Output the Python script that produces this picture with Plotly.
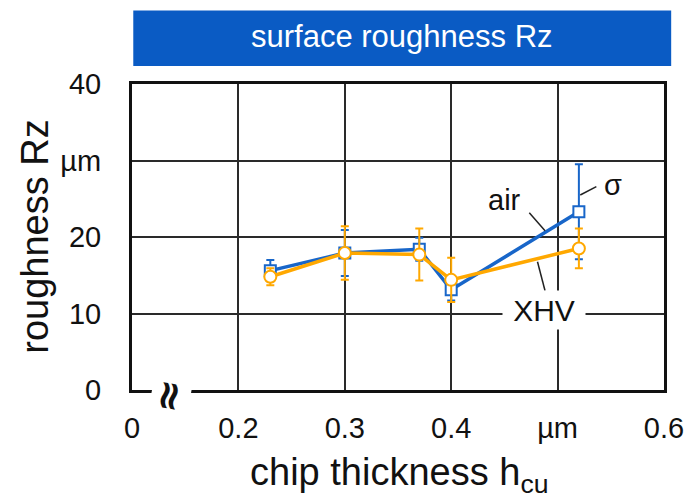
import plotly.graph_objects as go

# ---- data ----
chip_thickness = [0.23, 0.30, 0.37, 0.40, 0.52]
rz_air = [15.6, 17.9, 18.4, 13.1, 23.3]
sd_air = [1.4, 3.0, 1.5, 1.4, 6.2]
rz_xhv = [14.8, 17.9, 17.7, 14.4, 18.5]
sd_xhv = [1.1, 3.5, 3.4, 2.9, 2.6]

x_tickvals = [0.1, 0.2, 0.3, 0.4, 0.5, 0.6]
x_ticktext = ["0", "0.2", "0.3", "0.4", "µm", "0.6"]
y_tickvals = [0, 10, 20, 30, 40]
y_ticktext = ["0", "10", "20", "µm", "40"]

BLUE = "#1866C9"
ORANGE = "#FFA800"
BANNER = "#0A5BC4"
FONT = "Liberation Sans, Arial, sans-serif"

fig = go.Figure()

fig.add_trace(go.Scatter(
    x=chip_thickness, y=rz_air, mode="lines+markers", name="air",
    line=dict(color=BLUE, width=3.5),
    marker=dict(symbol="square", size=11, color="white", line=dict(color=BLUE, width=2)),
    error_y=dict(type="data", array=sd_air, visible=True, color=BLUE, thickness=2, width=4),
    cliponaxis=False,
))
fig.add_trace(go.Scatter(
    x=chip_thickness, y=rz_xhv, mode="lines+markers", name="XHV",
    line=dict(color=ORANGE, width=3.5),
    marker=dict(symbol="circle", size=12, color="white", line=dict(color=ORANGE, width=2)),
    error_y=dict(type="data", array=sd_xhv, visible=True, color=ORANGE, thickness=2, width=4),
    cliponaxis=False,
))

fig.update_xaxes(
    range=[0.1, 0.6], tickvals=x_tickvals, ticktext=x_ticktext,
    showgrid=True, gridcolor="#2a2a2a", gridwidth=2,
    showline=True, linecolor="#111", linewidth=3, mirror=True,
    ticks="", ticklabelstandoff=10, zeroline=False,
    tickfont=dict(family=FONT, size=29, color="#111"),
)
fig.update_yaxes(
    range=[0, 40], tickvals=y_tickvals, ticktext=y_ticktext,
    showgrid=True, gridcolor="#2a2a2a", gridwidth=2,
    showline=True, linecolor="#111", linewidth=3, mirror=True,
    ticks="", ticklabelstandoff=22, zeroline=False,
    tickfont=dict(family=FONT, size=29, color="#111"),
)

shapes = [
    # banner
    dict(type="rect", xref="paper", yref="paper", x0=0.0024, x1=1.0135, y0=1.0588, y1=1.2405,
         fillcolor=BANNER, line=dict(width=0), layer="above"),
    # leader lines
    dict(type="line", xref="x", yref="y", x0=0.4734, y0=23.18, x1=0.4882, y1=20.82,
         line=dict(color="#222", width=1.5)),
    dict(type="line", xref="x", yref="y", x0=0.5213, y0=25.49, x1=0.5364, y1=26.58,
         line=dict(color="#222", width=1.5)),
    dict(type="line", xref="x", yref="y", x0=0.4811, y0=16.77, x1=0.4882, y1=12.98,
         line=dict(color="#222", width=1.5)),
]

C = dict(xanchor="center", yanchor="middle", showarrow=False)
annotations = [
    dict(text="surface roughness Rz", xref="paper", yref="paper", x=0.508, y=1.156,
         font=dict(family=FONT, size=31, color="white"), **C),
    dict(text="air", xref="x", yref="y", x=0.4503, y=24.8,
         font=dict(family=FONT, size=29, color="#111"), **C),
    dict(text="σ", xref="x", yref="y", x=0.552, y=26.8,
         font=dict(family=FONT, size=29, color="#111"), **C),
    dict(text="XHV", xref="x", yref="y", x=0.4873, y=10.46,
         bgcolor="white", width=80, height=36,
         font=dict(family=FONT, size=30, color="#111"), **C),
    dict(text="<b>≈</b>", xref="paper", yref="paper", x=(171 - 131.7) / 540, y=(390 - 396) / 306,
         textangle=100, bgcolor="white", width=38, height=36,
         font=dict(family="DejaVu Sans", size=40, color="#111"), **C),
    dict(text="roughness Rz", xref="paper", yref="paper", x=(33 - 131.7) / 540, y=0.5,
         textangle=-90, font=dict(family=FONT, size=38, color="#111"), **C),
    dict(text="chip thickness h<sub>cu</sub>", xref="paper", yref="paper",
         x=(403 - 131.7) / 540, y=(390 - 475) / 306,
         font=dict(family=FONT, size=38, color="#111"), **C),
]

fig.update_layout(
    width=696, height=498,
    margin=dict(l=132, r=24, t=84, b=108),
    paper_bgcolor="white", plot_bgcolor="white",
    showlegend=False,
    shapes=shapes, annotations=annotations,
    font=dict(family=FONT),
)

fig.write_html("out.html")
